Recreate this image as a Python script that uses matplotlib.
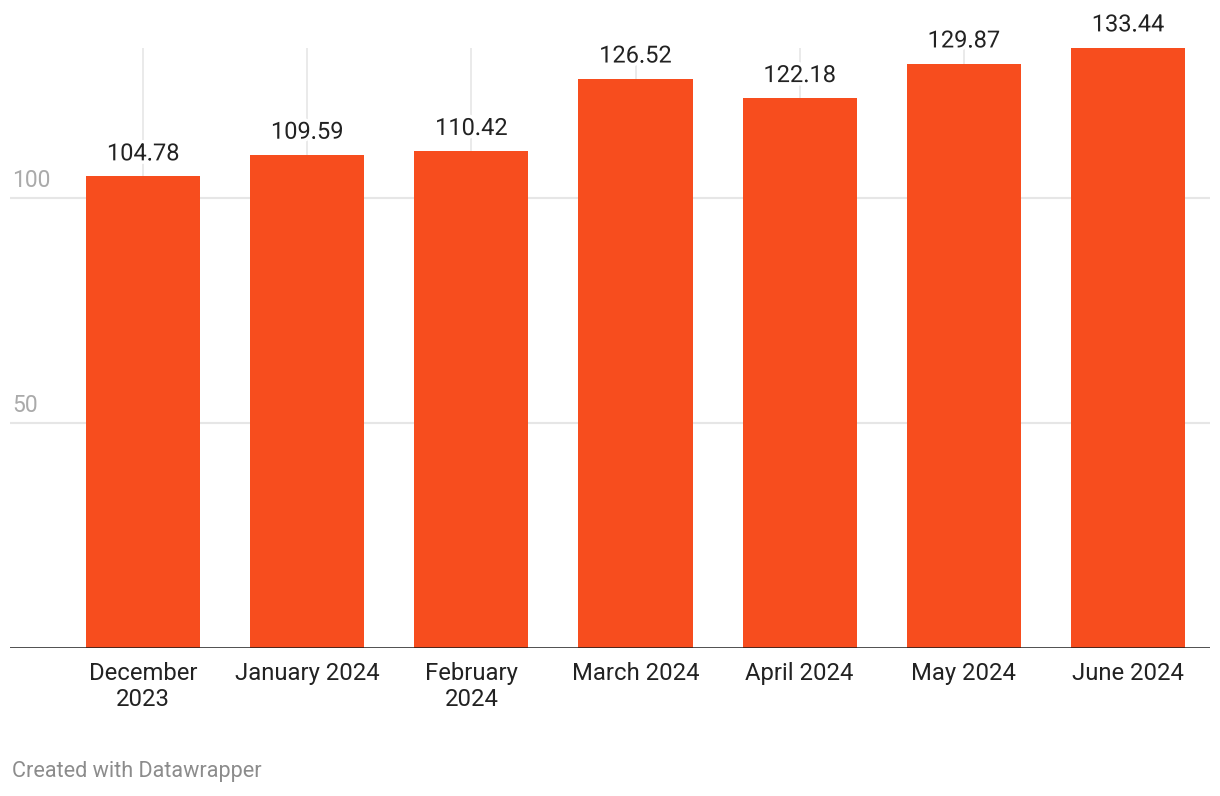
import matplotlib.pyplot as plt
import matplotlib.patheffects as pe

months = ["December\n2023", "January 2024", "February\n2024", "March 2024",
          "April 2024", "May 2024", "June 2024"]
values = [104.78, 109.59, 110.42, 126.52, 122.18, 129.87, 133.44]
yticks = [50, 100]

bar_color = "#f74d1e"
plt.rcParams["font.family"] = ["Roboto", "DejaVu Sans"]

fig = plt.figure(figsize=(12.2, 7.96), dpi=100)
ax = fig.add_axes([10 / 1220, 148 / 796, 1200 / 1220, 600.5 / 796])

xs = list(range(len(values)))

# vertical guides at each category, behind the bars
for x in xs:
    ax.axvline(x, color="#e6e6e6", lw=1.2, zorder=0)
for y in yticks:
    ax.axhline(y, color="#e6e6e6", lw=1.5, zorder=0)

ax.bar(xs, values, width=0.695, color=bar_color, zorder=2)
ax.axhline(0, color="#1a1a1a", lw=1.8, zorder=3)

for x, v in zip(xs, values):
    ax.annotate(f"{v:.2f}", (x, v), xytext=(0, 8), textcoords="offset points",
                ha="center", va="bottom", fontsize=17, color="#222222", zorder=4,
                path_effects=[pe.withStroke(linewidth=5, foreground="white")])

for y in yticks:
    ax.annotate(str(y), (0, y), xycoords=("axes fraction", "data"),
                xytext=(1.5, 4), textcoords="offset points",
                ha="left", va="bottom", fontsize=16.5, color="#aaaaaa")

ax.set_xlim(-0.811, 6.5)
ax.set_ylim(0, 133.44)
ax.set_xticks(xs)
ax.set_xticklabels(months, fontsize=17.2, color="#222222", linespacing=1.2)
ax.tick_params(axis="x", length=0, pad=10)
ax.set_yticks([])
for s in ax.spines.values():
    s.set_visible(False)

fig.text(12 / 1220, 1 - 772 / 796, "Created with Datawrapper", fontsize=15.6,
         color="#8c8c8c", ha="left", va="center")

fig.savefig("out.png", dpi=100, facecolor="white")
